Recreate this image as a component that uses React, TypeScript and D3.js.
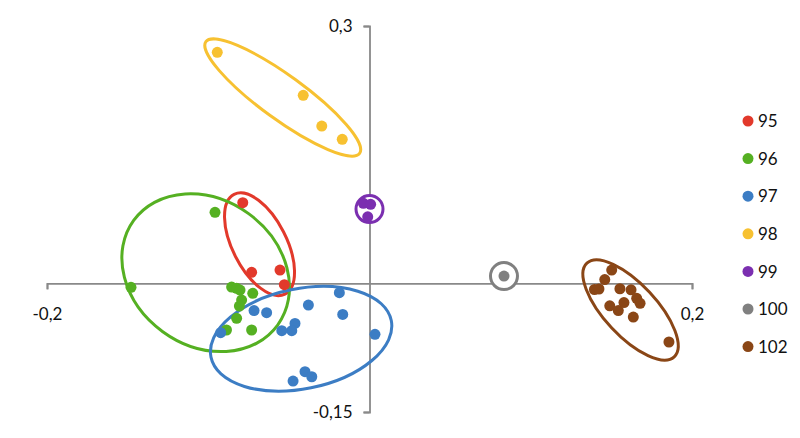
import React, { useRef, useEffect } from 'react';
import * as d3 from 'd3';

// series labels and colours (legend order)
const seriesNames = ['95', '96', '97', '98', '99', '100', '102'];
const seriesColors = ['#E2392B', '#55B022', '#3C7DC4', '#F7C131', '#7B2FB0', '#808080', '#8A4616'];

// points per series: [x, y]
const pts95: [number, number][] = [
  [-0.0786, 0.094], [-0.0731, 0.0128], [-0.0555, 0.0155], [-0.0528, -0.0016],
];
const pts96: [number, number][] = [
  [-0.0958, 0.0828], [-0.1479, -0.0047], [-0.0855, -0.0043], [-0.0824, -0.0058],
  [-0.0803, -0.0078], [-0.0724, -0.0117], [-0.0793, -0.0195], [-0.0807, -0.0265],
  [-0.0824, -0.0408], [-0.0887, -0.0544], [-0.0731, -0.0544],
];
const pts97: [number, number][] = [
  [-0.0187, -0.0109], [-0.0379, -0.0253], [-0.0166, -0.0362], [0.0034, -0.0595],
  [-0.0716, -0.0318], [-0.0638, -0.0342], [-0.0462, -0.0467], [-0.0482, -0.0552],
  [-0.0544, -0.0552], [-0.0923, -0.0575], [-0.04, -0.103], [-0.0358, -0.1089],
  [-0.0474, -0.1139],
];
const pts98: [number, number][] = [
  [-0.0944, 0.2693], [-0.0411, 0.2192], [-0.0296, 0.1834], [-0.0169, 0.1679],
];
const pts99: [number, number][] = [
  [-0.0038, 0.0933], [0.0007, 0.0921], [-0.0011, 0.0776],
];
const pts100: [number, number][] = [[0.0834, 0.0085]];
const pts102: [number, number][] = [
  [0.1502, 0.0155], [0.1459, 0.0044], [0.1395, -0.0072], [0.1423, -0.0066],
  [0.1553, -0.0063], [0.1622, -0.0075], [0.1657, -0.0175], [0.1678, -0.0233],
  [0.149, -0.0262], [0.1543, -0.0317], [0.1578, -0.0224], [0.1636, -0.0393],
  [0.1857, -0.0684],
];
const seriesPoints = [pts95, pts96, pts97, pts98, pts99, pts100, pts102];

// group outlines: centre in data units, semi-axes in px, rotation in degrees
const outlineCenters: [number, number][] = [
  [-0.0682, 0.0456], [-0.1016, 0.0124], [-0.0424, -0.0647], [-0.0538, 0.2166],
  [0, 0.0866], [0.0834, 0.0085], [0.1619, -0.0311],
];
const outlineAxes: [number, number][] = [[56, 27], [89, 73], [92, 50], [95, 22], [13.5, 13.5], [13.5, 13.5], [64, 26]];
const outlineAngles = [63, 36, -11.5, 36, 0, 0, 47];

const xTicks = [-0.2, 0.2];
const yTicks = [-0.15, 0.3];

const W = 800;
const H = 438;
const FONT = 'Lato, "Liberation Sans", sans-serif';

export default function App() {
  const ref = useRef<SVGSVGElement>(null);

  useEffect(() => {
    if (!ref.current) return;
    drawChart(ref.current);
  }, []);

  return (
    <svg
      ref={ref}
      width={W}
      height={H}
      style={{ position: 'absolute', left: 0, top: 0, background: '#fff' }}
    />
  );
}

function drawChart(svgElement: SVGSVGElement) {
  const svg = d3.select(svgElement);
  svg.selectAll('*').remove();

  const x = d3.scaleLinear().domain([-0.2, 0.2]).range([47, 692]);
  const y = d3.scaleLinear().domain([-0.15, 0.3]).range([412, 26]);
  const fmt = (d: d3.NumberValue) => String(d).replace('.', ',');

  // x axis through y = 0
  const gx = svg.append('g')
    .attr('transform', `translate(0,${y(0)})`)
    .call(d3.axisBottom(x).tickValues(xTicks).tickFormat(fmt).tickSize(6).tickPadding(19));

  // y axis through x = 0
  const gy = svg.append('g')
    .attr('transform', `translate(${x(0)},0)`)
    .call(d3.axisLeft(y).tickValues(yTicks).tickFormat(fmt).tickSize(6).tickPadding(11));

  [gx, gy].forEach((g) => {
    g.selectAll('path, line').attr('stroke', '#898989').attr('stroke-width', 1.8);
    g.selectAll('text')
      .attr('fill', '#111')
      .style('font-family', FONT)
      .style('font-size', '17px');
  });

  // group outlines
  svg.append('g')
    .selectAll('ellipse')
    .data(outlineCenters)
    .enter()
    .append('ellipse')
    .attr('transform', (d, i) => `translate(${x(d[0])},${y(d[1])}) rotate(${outlineAngles[i]})`)
    .attr('rx', (_d, i) => outlineAxes[i][0])
    .attr('ry', (_d, i) => outlineAxes[i][1])
    .attr('fill', (_d, i) => (outlineAxes[i][0] < 20 ? '#fff' : 'none'))
    .attr('stroke', (_d, i) => seriesColors[i])
    .attr('stroke-width', 3);

  // points
  seriesPoints.forEach((pts, i) => {
    svg.append('g')
      .selectAll('circle')
      .data(pts)
      .enter()
      .append('circle')
      .attr('cx', (d) => x(d[0]))
      .attr('cy', (d) => y(d[1]))
      .attr('r', 5.5)
      .attr('fill', seriesColors[i]);
  });

  // legend
  const legend = svg.append('g').attr('transform', 'translate(748,121)');
  const item = legend.selectAll('g')
    .data(seriesNames)
    .enter()
    .append('g')
    .attr('transform', (_d, i) => `translate(0,${i * 37.6})`);
  item.append('circle')
    .attr('r', 5.5)
    .attr('fill', (_d, i) => seriesColors[i]);
  item.append('text')
    .attr('x', 10)
    .attr('dy', '0.36em')
    .attr('fill', '#111')
    .style('font-family', FONT)
    .style('font-size', '17px')
    .text((d) => d);
}
